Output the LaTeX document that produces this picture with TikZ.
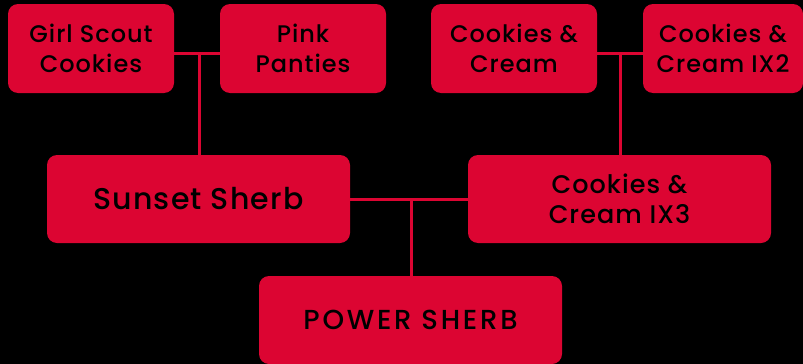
\documentclass[tikz,border=0pt]{standalone}
\usepackage{fontspec}
\setmainfont{Poppins}[UprightFont={* Medium}, LetterSpace=4]
\definecolor{boxred}{HTML}{DC0532}
\tikzset{
  famnode/.style={fill=boxred, rounded corners=10pt, align=center, text=black, inner sep=0pt},
  small/.style={font=\fontsize{24}{30}\selectfont},
  link/.style={draw=boxred, line width=3pt}
}
\begin{document}
\begin{tikzpicture}[x=1pt,y=-1pt]
\fill[black] (0,0) rectangle (803,364);
\useasboundingbox (0,0) rectangle (803,364);
\node[famnode, small, minimum width=166pt, minimum height=89pt] (gsc) at (91,48.5) {Girl Scout\\Cookies};
\node[famnode, small, minimum width=166pt, minimum height=89pt] (pp) at (303,48.5) {Pink\\Panties};
\node[famnode, small, minimum width=166pt, minimum height=89pt] (cc) at (514,48.5) {Cookies \&\\Cream};
\node[famnode, small, minimum width=160pt, minimum height=89pt] (cc2) at (723,48.5) {Cookies \&\\Cream IX2};
\node[famnode, minimum width=303pt, minimum height=88pt, font=\fontsize{30}{34}\selectfont] (ss) at (198.5,199) {Sunset Sherb};
\node[famnode, minimum width=303pt, minimum height=88pt, font=\fontsize{25.5}{30}\selectfont] (cc3) at (619.5,199) {Cookies \&\\Cream IX3};
\node[famnode, minimum width=303pt, minimum height=88pt, font=\fontsize{27.5}{32}\selectfont\addfontfeature{LetterSpace=10}] (ps) at (410.5,320) {POWER SHERB};
\coordinate (j1) at (199,53);
\coordinate (j2) at (620,53);
\coordinate (j3) at (411,199);
\draw[link] (gsc.east |- j1) -- (pp.west |- j1);
\draw[link] (j1) -- (j1 |- ss.north);
\draw[link] (cc.east |- j2) -- (cc2.west |- j2);
\draw[link] (j2) -- (j2 |- cc3.north);
\draw[link] (ss.east |- j3) -- (cc3.west |- j3);
\draw[link] (j3) -- (j3 |- ps.north);
\end{tikzpicture}
\end{document}
